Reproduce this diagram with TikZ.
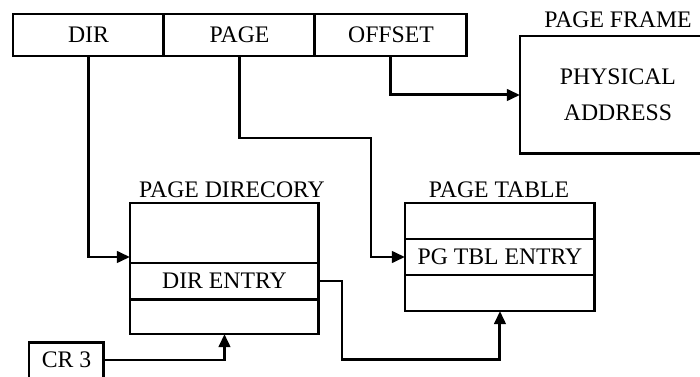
\documentclass[tikz,border=0pt]{standalone}
\usepackage{fontspec}
\setmainfont{Liberation Serif}
\usetikzlibrary{arrows.meta}
\begin{document}
\begin{tikzpicture}[x=0.02cm,y=-0.02cm,
  cell/.style={draw, line width=1.7pt, inner sep=0pt, outer sep=0pt,
    anchor=north west, font=\fontsize{13.5}{15}\selectfont},
  caption/.style={font=\fontsize{13.5}{15}\selectfont, inner sep=0pt},
  link/.style={line width=1.7pt, -{Triangle[length=7.5pt,width=6.5pt]}}]
\useasboundingbox[fill=white] (0,0) rectangle (700,376);

% linear address fields
\node[cell, minimum width=3.02cm, minimum height=0.84cm] (dir) at (13,14) {DIR};
\node[cell, minimum width=3.02cm, minimum height=0.84cm] (page) at (164,14) {PAGE};
\node[cell, minimum width=3.04cm, minimum height=0.84cm] (offset) at (315,14) {OFFSET};

% page frame
\node[cell, minimum width=3.92cm, minimum height=2.36cm, align=center,
  font=\fontsize{13.5}{20.4}\selectfont] (frame) at (520,36) {PHYSICAL\\ADDRESS};
\node[caption] (framelbl) at (618,20) {PAGE FRAME};

% page directory
\node[cell, minimum width=3.78cm, minimum height=1.2cm] (pdtop) at (130,203) {};
\node[cell, minimum width=3.78cm, minimum height=0.72cm] (pdmid) at (130,263) {DIR ENTRY};
\node[cell, minimum width=3.78cm, minimum height=0.7cm] (pdbot) at (130,299) {};
\node[caption] (pdlbl) at (232,189.5) {PAGE DIRECORY};

% page table
\node[cell, minimum width=3.8cm, minimum height=0.72cm] (pttop) at (405,203) {};
\node[cell, minimum width=3.8cm, minimum height=0.72cm] (ptmid) at (405,239) {PG TBL ENTRY};
\node[cell, minimum width=3.8cm, minimum height=0.72cm] (ptbot) at (405,275) {};
\node[caption] (ptlbl) at (499,189.5) {PAGE TABLE};

% control register
\node[cell, minimum width=1.5cm, minimum height=0.72cm] (cr) at (29,342) {CR 3};

% connectors
\draw[link] (dir.south) |- ([yshift=0.12cm]pdtop.south west);
\draw[link] (page.south) |- (371,138) |- (ptmid.west);
\draw[link] (offset.south) |- (frame.west);
\draw[link] (pdmid.east) -| (342,359) -| (ptbot.south);
\draw[link] (cr.east) -| (pdbot.south);
\end{tikzpicture}
\end{document}
